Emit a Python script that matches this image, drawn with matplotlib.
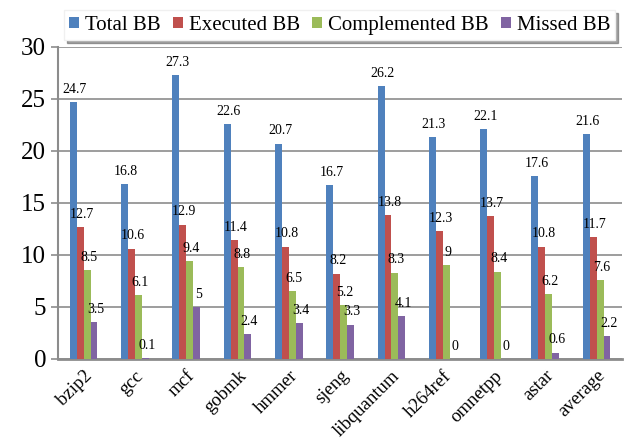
import matplotlib.pyplot as plt
import numpy as np

plt.rcParams['font.family'] = ['Liberation Serif', 'DejaVu Serif']

categories = ['bzip2', 'gcc', 'mcf', 'gobmk', 'hmmer', 'sjeng', 'libquantum',
              'h264ref', 'omnetpp', 'astar', 'average']
total_bb = [24.7, 16.8, 27.3, 22.6, 20.7, 16.7, 26.2, 21.3, 22.1, 17.6, 21.6]
executed_bb = [12.7, 10.6, 12.9, 11.4, 10.8, 8.2, 13.8, 12.3, 13.7, 10.8, 11.7]
complemented_bb = [8.5, 6.1, 9.4, 8.8, 6.5, 5.2, 8.3, 9, 8.4, 6.2, 7.6]
missed_bb = [3.5, 0.1, 5, 2.4, 3.4, 3.3, 4.1, 0, 0, 0.6, 2.2]

series = [
    ('Total BB', total_bb, '#4F81BD'),
    ('Executed BB', executed_bb, '#C0504D'),
    ('Complemented BB', complemented_bb, '#9BBB59'),
    ('Missed BB', missed_bb, '#8064A2'),
]

fig = plt.figure(figsize=(6.27, 4.43), dpi=100)
ax = fig.add_axes([0.0925, 0.19, 0.9, 0.704])

x = np.arange(len(categories))
width = 0.135
offsets = (np.arange(4) - 1.5) * width

for (name, vals, color), off in zip(series, offsets):
    bars = ax.bar(x + off, vals, width, color=color, label=name, zorder=3)
    for b, v in zip(bars, vals):
        ax.text(b.get_x() + b.get_width() / 2 + 0.03, v + 0.6, f'{v:g}',
                ha='center', va='bottom', fontsize=10, zorder=4)

ax.set_xlim(-0.5, len(categories) - 0.5)
ax.set_ylim(0, 30)
ax.set_yticks(np.arange(0, 31, 5))
ax.yaxis.grid(True, color='#8c8c8c', linewidth=1.2, zorder=0)
ax.tick_params(axis='y', labelsize=18, length=5, color='#8c8c8c', width=1.2)
ax.set_xticks(x)
ax.set_xticklabels(categories, rotation=45, ha='right', rotation_mode='anchor',
                   fontsize=13.5)
ax.tick_params(axis='x', length=0, pad=6)

for s in ['top', 'right']:
    ax.spines[s].set_visible(False)
ax.spines['left'].set_color('#8c8c8c')
ax.spines['left'].set_linewidth(1.5)
ax.spines['bottom'].set_color('#8c8c8c')
ax.spines['bottom'].set_linewidth(2)

leg = fig.legend(loc='upper center', bbox_to_anchor=(0.542, 1.0), ncol=4,
                 prop={'family': 'Liberation Serif', 'size': 15},
                 frameon=True, fancybox=False, shadow=True,
                 handlelength=0.45, handleheight=0.45, handletextpad=0.3,
                 columnspacing=0.6, borderpad=0.25, edgecolor='#f0f0f0')

fig.savefig('out.png', dpi=100)
